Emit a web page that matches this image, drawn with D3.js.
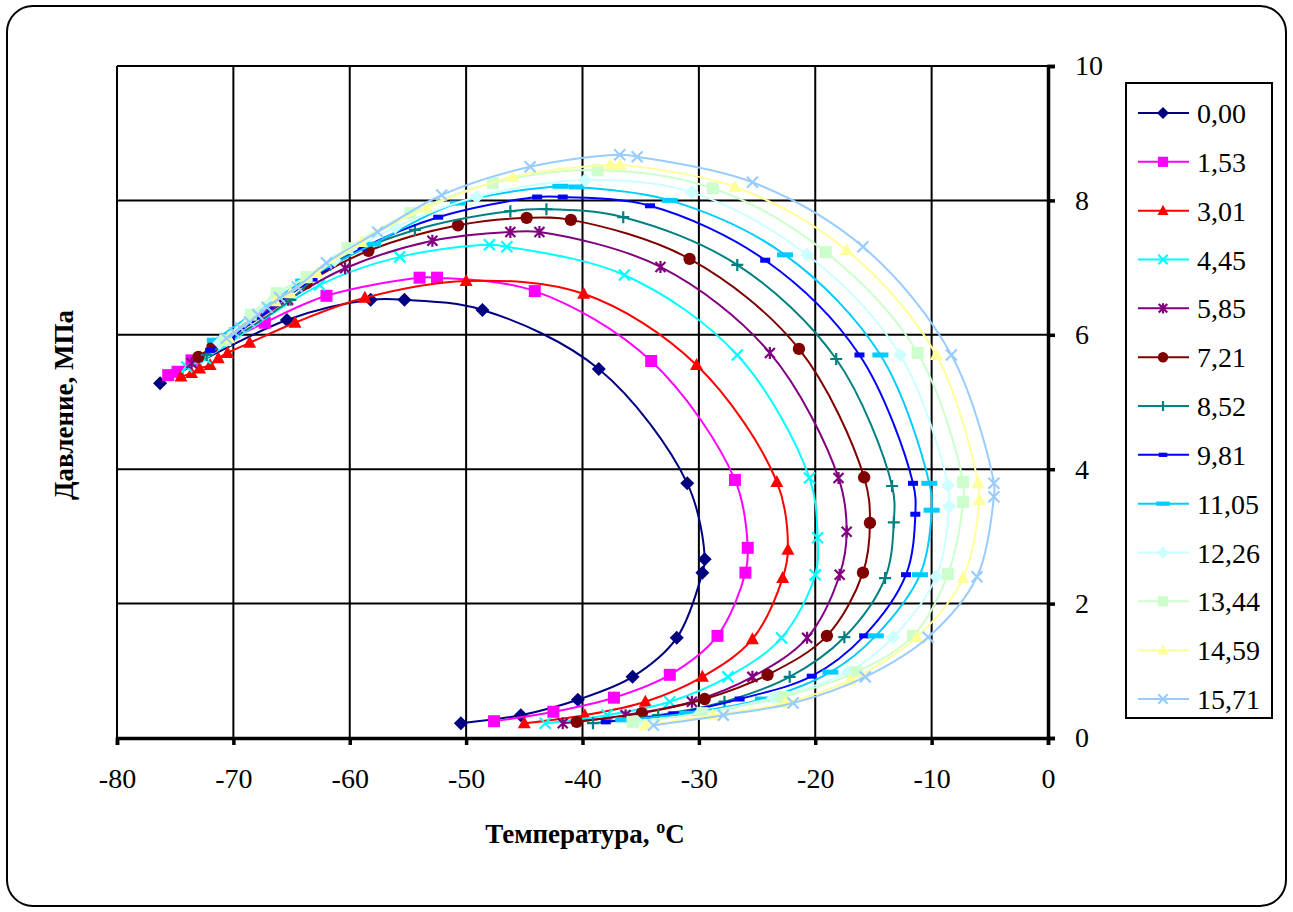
<!DOCTYPE html>
<html>
<head>
<meta charset="utf-8">
<script src="https://cdn.jsdelivr.net/npm/d3@7"></script>
<style>
  html, body { margin: 0; padding: 0; background: #fff; }
  svg text { font-family: "Liberation Serif", "Times New Roman", serif; fill: #000; }
</style>
</head>
<body>
<svg id="chart" width="1293" height="912"></svg>
<script>
// series names (legend) and their points [temperature °C, pressure MPa]
const seriesNames = ['0,00', '1,53', '3,01', '4,45', '5,85', '7,21', '8,52', '9,81', '11,05', '12,26', '13,44', '14,59', '15,71']

const s000 = [[-50.45, 0.22], [-45.3, 0.34], [-40.4, 0.57], [-35.7, 0.91], [-31.9, 1.49], [-29.7, 2.46], [-29.5, 2.66], [-31.0, 3.79], [-38.6, 5.49], [-48.6, 6.37], [-55.3, 6.52], [-58.2, 6.52], [-65.4, 6.22], [-76.3, 5.28]]
const s153 = [[-47.6, 0.25], [-42.5, 0.39], [-37.3, 0.60], [-32.5, 0.94], [-28.4, 1.52], [-26.0, 2.46], [-25.8, 2.83], [-26.9, 3.84], [-34.1, 5.61], [-44.1, 6.65], [-52.5, 6.85], [-54.0, 6.85], [-62.0, 6.58], [-67.3, 6.18], [-73.6, 5.62], [-74.8, 5.45], [-75.6, 5.40]]
const s301 = [[-45.0, 0.22], [-39.8, 0.34], [-34.6, 0.54], [-29.7, 0.91], [-25.4, 1.47], [-22.8, 2.38], [-22.35, 2.80], [-23.3, 3.81], [-30.2, 5.55], [-39.9, 6.61], [-50.0, 6.80], [-58.7, 6.55], [-64.7, 6.18], [-68.6, 5.88], [-70.5, 5.73], [-71.3, 5.65], [-72.0, 5.55], [-72.9, 5.50], [-73.6, 5.43], [-74.5, 5.38]]
const s445 = [[-43.2, 0.22], [-37.9, 0.34], [-32.5, 0.54], [-27.5, 0.91], [-22.9, 1.49], [-20.0, 2.43], [-19.8, 2.98], [-20.5, 3.87], [-26.7, 5.70], [-36.4, 6.89], [-46.5, 7.31], [-48.0, 7.34], [-55.7, 7.16], [-62.6, 6.74], [-72.4, 5.65], [-74.0, 5.52]]
const s585 = [[-41.7, 0.22], [-36.3, 0.34], [-30.6, 0.54], [-25.4, 0.91], [-20.7, 1.49], [-17.9, 2.43], [-17.3, 3.07], [-18.0, 3.87], [-23.9, 5.73], [-33.3, 7.01], [-43.7, 7.53], [-46.2, 7.53], [-52.9, 7.40], [-60.4, 6.99], [-65.3, 6.52], [-73.6, 5.58]]
const s721 = [[-40.5, 0.24], [-34.9, 0.37], [-29.5, 0.58], [-24.1, 0.94], [-19.0, 1.52], [-15.9, 2.46], [-15.3, 3.20], [-15.8, 3.88], [-21.4, 5.79], [-30.8, 7.13], [-41.0, 7.71], [-44.8, 7.74], [-50.7, 7.63], [-58.4, 7.25], [-63.7, 6.77], [-71.8, 5.82], [-73.0, 5.67]]
const s852 = [[-39.1, 0.22], [-33.5, 0.34], [-27.8, 0.54], [-22.2, 0.91], [-17.5, 1.50], [-14.0, 2.38], [-13.25, 3.21], [-13.4, 3.75], [-18.2, 5.64], [-26.7, 7.04], [-36.5, 7.75], [-43.1, 7.87], [-46.2, 7.84], [-54.4, 7.56], [-61.7, 7.04], [-65.1, 6.52], [-72.3, 5.70]]
const s981 = [[-38.0, 0.24], [-32.2, 0.36], [-26.5, 0.58], [-20.3, 0.92], [-15.8, 1.52], [-12.2, 2.43], [-11.4, 3.33], [-11.6, 3.79], [-16.2, 5.70], [-24.3, 7.11], [-34.2, 7.92], [-41.7, 8.05], [-43.9, 8.05], [-52.4, 7.75], [-58.9, 7.29], [-63.2, 6.83], [-70.3, 5.95], [-72.0, 5.77]]
const s1105 = [[-36.5, 0.27], [-31.0, 0.37], [-24.5, 0.58], [-18.7, 0.98], [-14.8, 1.52], [-11.0, 2.43], [-10.0, 3.39], [-10.2, 3.79], [-14.4, 5.70], [-22.6, 7.19], [-32.5, 8.00], [-40.5, 8.20], [-41.9, 8.21], [-50.7, 7.96], [-58.0, 7.35], [-64.0, 6.80], [-71.6, 5.92]]
const s1226 = [[-35.3, 0.24], [-29.9, 0.37], [-23.6, 0.60], [-17.2, 0.98], [-13.3, 1.50], [-9.6, 2.40], [-8.5, 3.45], [-8.6, 3.76], [-12.7, 5.70], [-20.7, 7.19], [-30.6, 8.12], [-39.8, 8.30], [-49.1, 8.05], [-56.1, 7.60], [-61.3, 7.11], [-66.5, 6.55], [-71.2, 5.88]]
const s1344 = [[-35.7, 0.24], [-29.7, 0.37], [-22.8, 0.61], [-16.5, 0.98], [-11.6, 1.52], [-8.6, 2.44], [-7.3, 3.51], [-7.3, 3.81], [-11.2, 5.73], [-19.1, 7.23], [-28.8, 8.18], [-38.7, 8.45], [-47.7, 8.26], [-54.8, 7.81], [-60.2, 7.29], [-63.7, 6.86], [-66.3, 6.62], [-68.5, 6.30], [-70.7, 5.92]]
const s1459 = [[-34.6, 0.19], [-28.8, 0.34], [-22.6, 0.52], [-17.0, 0.86], [-11.3, 1.50], [-7.3, 2.38], [-5.9, 3.54], [-6.0, 3.79], [-9.6, 5.70], [-17.3, 7.26], [-26.9, 8.20], [-36.8, 8.53], [-37.6, 8.53], [-46.0, 8.35], [-53.4, 7.89], [-59.0, 7.38], [-62.8, 6.92], [-65.1, 6.62], [-66.4, 6.50], [-70.4, 5.95]]
const s1571 = [[-33.9, 0.19], [-27.9, 0.34], [-21.9, 0.52], [-15.7, 0.91], [-10.3, 1.50], [-6.1, 2.40], [-4.65, 3.59], [-4.65, 3.79], [-8.3, 5.70], [-15.9, 7.31], [-25.4, 8.27], [-35.3, 8.65], [-36.8, 8.68], [-44.5, 8.50], [-52.1, 8.08], [-57.6, 7.53], [-62.0, 7.07], [-64.5, 6.71], [-66.0, 6.55], [-67.1, 6.41], [-67.9, 6.30], [-68.6, 6.19], [-69.4, 6.10], [-69.9, 6.03], [-70.6, 5.95]]

const seriesData = [s000, s153, s301, s445, s585, s721, s852, s981, s1105, s1226, s1344, s1459, s1571]

const xTicks = [-80, -70, -60, -50, -40, -30, -20, -10, 0]
const yTicks = [0, 2, 4, 6, 8, 10]

// styling
const colors = ['#000080', '#ff00ff', '#ff0000', '#00ffff', '#800080', '#800000', '#008080', '#0000ff', '#00ccff', '#ccffff', '#ccffcc', '#ffff99', '#99ccff']
const markers = ['diamond', 'square', 'triangle', 'x', 'star', 'circle', 'plus', 'shortdash', 'longdash', 'diamond', 'square', 'triangle', 'x']

const svg = d3.select('#chart')

svg.append('rect')
  .attr('x', 7).attr('y', 6).attr('width', 1279).attr('height', 900)
  .attr('rx', 26).attr('ry', 26)
  .attr('fill', '#fff').attr('stroke', '#000').attr('stroke-width', 2)

const plot = { left: 117, right: 1048, top: 66, bottom: 738 }

const x = d3.scaleLinear().domain([-80, 0]).range([plot.left, plot.right])
const y = d3.scaleLinear().domain([0, 10]).range([plot.bottom, plot.top])

// grid
const grid = svg.append('g').attr('class', 'grid')
grid.selectAll('line.v')
  .data(xTicks)
  .join('line')
  .attr('class', 'v')
  .attr('x1', d => x(d)).attr('x2', d => x(d))
  .attr('y1', plot.top).attr('y2', plot.bottom)
  .attr('stroke', '#000').attr('stroke-width', 2)
grid.selectAll('line.h')
  .data(yTicks)
  .join('line')
  .attr('class', 'h')
  .attr('x1', plot.left).attr('x2', plot.right)
  .attr('y1', d => y(d)).attr('y2', d => y(d))
  .attr('stroke', '#000').attr('stroke-width', 2)

// axes (plain hyphen for negatives, like the source)
const fmt = d => String(d)

const xAxis = svg.append('g')
  .attr('transform', `translate(0,${plot.bottom})`)
  .call(d3.axisBottom(x).tickValues(xTicks).tickSize(7).tickPadding(30).tickFormat(fmt))
xAxis.select('.domain').attr('stroke-width', 3.5)
xAxis.selectAll('.tick line').attr('stroke-width', 3.5)
xAxis.selectAll('.tick text').attr('font-size', 28).attr('font-family', 'Liberation Serif').attr('dy', '0.45em')

const yAxis = svg.append('g')
  .attr('transform', `translate(${plot.right},0)`)
  .call(d3.axisRight(y).tickValues(yTicks).tickSize(7).tickPadding(20).tickFormat(fmt))
yAxis.select('.domain').attr('stroke-width', 3.5)
yAxis.selectAll('.tick line').attr('stroke-width', 3.5)
yAxis.selectAll('.tick text').attr('font-size', 28).attr('font-family', 'Liberation Serif')

// marker shapes
function markerPath (type, s) {
  switch (type) {
    case 'diamond': return `M0,${-7 * s}L${7 * s},0L0,${7 * s}L${-7 * s},0Z`
    case 'square': return `M${-6 * s},${-6 * s}h${12 * s}v${12 * s}h${-12 * s}Z`
    case 'triangle': return `M0,${-7 * s}L${6.5 * s},${5 * s}L${-6.5 * s},${5 * s}Z`
    case 'x': return `M${-5.5 * s},${-5.5 * s}L${5.5 * s},${5.5 * s}M${-5.5 * s},${5.5 * s}L${5.5 * s},${-5.5 * s}`
    case 'star': return `M${-5 * s},${-5 * s}L${5 * s},${5 * s}M${-5 * s},${5 * s}L${5 * s},${-5 * s}M0,${-6 * s}V${6 * s}`
    case 'circle': return d3.symbol(d3.symbolCircle, 120 * s * s)()
    case 'plus': return `M${-6 * s},0H${6 * s}M0,${-6 * s}V${6 * s}`
    case 'shortdash': return `M${-5 * s},${-2.5 * s}h${10 * s}v${5 * s}h${-10 * s}Z`
    case 'longdash': return `M${-8 * s},${-2.5 * s}h${16 * s}v${5 * s}h${-16 * s}Z`
  }
}
const strokeOnly = t => t === 'x' || t === 'star' || t === 'plus'

function drawMarker (sel, type, color, s) {
  sel.attr('d', markerPath(type, s))
    .attr('fill', strokeOnly(type) ? 'none' : color)
    .attr('stroke', strokeOnly(type) ? color : 'none')
    .attr('stroke-width', strokeOnly(type) ? 2.2 : 0)
}

const line = d3.line()
  .x(d => x(d[0]))
  .y(d => y(d[1]))
  .curve(d3.curveCatmullRom.alpha(0.5))

const series = svg.append('g').attr('class', 'series')
seriesData.forEach((pts, i) => {
  const g = series.append('g')
  g.append('path')
    .attr('d', line(pts))
    .attr('fill', 'none')
    .attr('stroke', colors[i])
    .attr('stroke-width', 2)
  g.selectAll('path.m')
    .data(pts)
    .join('path')
    .attr('class', 'm')
    .attr('transform', d => `translate(${x(d[0])},${y(d[1])})`)
    .each(function () { drawMarker(d3.select(this), markers[i], colors[i], 1) })
})

// legend
const legend = svg.append('g').attr('class', 'legend')
legend.append('rect')
  .attr('x', 1126).attr('y', 83).attr('width', 146).attr('height', 635)
  .attr('fill', '#fff').attr('stroke', '#000').attr('stroke-width', 2)

const legendY = d3.scalePoint().domain(seriesNames).range([113, 699])
seriesNames.forEach((name, i) => {
  const ly = legendY(name)
  legend.append('line')
    .attr('x1', 1138).attr('x2', 1189).attr('y1', ly).attr('y2', ly)
    .attr('stroke', colors[i]).attr('stroke-width', 2)
  legend.append('path')
    .attr('transform', `translate(1163,${ly})`)
    .call(sel => drawMarker(sel, markers[i], colors[i], 0.85))
  legend.append('text')
    .attr('x', 1197).attr('y', ly + 10)
    .attr('font-size', 28)
    .text(name)
})

// axis titles
const xTitle = svg.append('text')
  .attr('x', 585).attr('y', 843)
  .attr('text-anchor', 'middle')
  .attr('font-size', 27).attr('font-weight', 'bold')
xTitle.append('tspan').text('Температура, ')
xTitle.append('tspan').attr('font-size', 18).attr('dy', -10).text('o')
xTitle.append('tspan').attr('dy', 10).text('C')

svg.append('text')
  .attr('transform', 'translate(73,405) rotate(-90)')
  .attr('text-anchor', 'middle')
  .attr('font-size', 27).attr('font-weight', 'bold')
  .text('Давление, МПа')
</script>
</body>
</html>
